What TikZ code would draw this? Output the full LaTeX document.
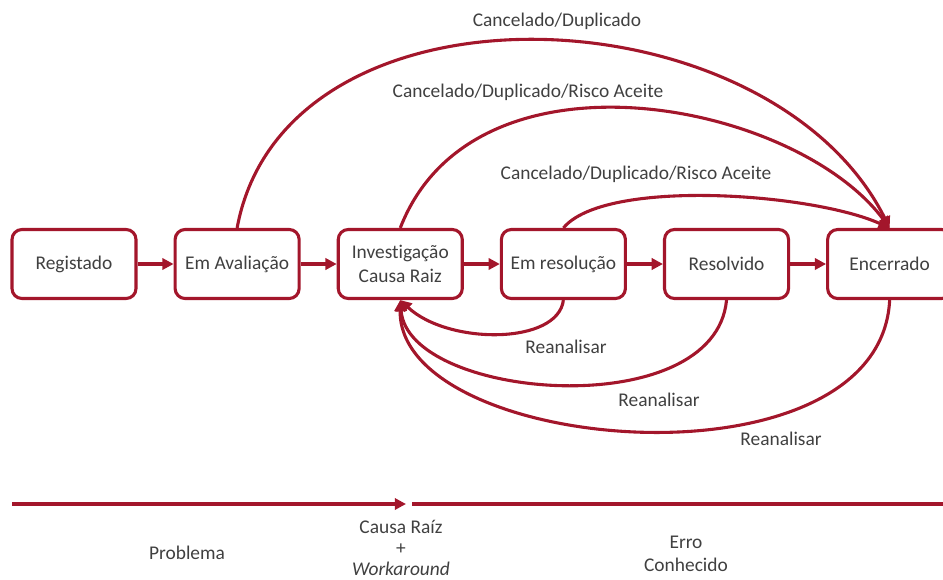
\documentclass[tikz,border=0pt]{standalone}
\usepackage{fontspec}
\setmainfont{Carlito}[Ligatures=NoCommon]
\usetikzlibrary{chains, positioning, arrows.meta}
\definecolor{wine}{RGB}{163,22,43}
\definecolor{txtgray}{RGB}{64,64,64}
\tikzset{
  estado/.style = {draw=wine, line width=2.2pt, rounded corners=0.25cm, fill=white, text=txtgray,
    minimum width=3.1cm, minimum height=1.725cm, inner sep=0, align=center, font=\fontsize{13.8}{17}\selectfont},
  fluxo/.style = {draw=wine, line width=2.2pt, -{Triangle[length=8pt, width=8pt]}},
  rotulo/.style = {text=txtgray, inner sep=0, align=center, font=\fontsize{13.8}{16}\selectfont},
}

\begin{document}
\begin{tikzpicture}[x=0.025cm, y=-0.025cm, start chain=1 going right, node distance=0.9cm]
        \useasboundingbox (0,0) rectangle (943,580);
        % Estados do problema, em linha
        \node (reg) [estado, on chain=1] at (74,264) {Registado};
        \foreach \N/\T in {
          aval/Em Avaliação,
          inv/Investigação\\Causa Raiz,
          resol/Em resolução,
          resolv/Resolvido,
          enc/Encerrado%
        }{
          \node (\N) [estado, on chain=1] {\T};
        }
        \foreach \A/\B in {reg/aval, aval/inv, inv/resol, resol/resolv, resolv/enc}
          \draw [fluxo] (\A) -- (\B);

        \draw [fluxo] (aval.north) .. controls (285,-32) and (770,-12) .. (enc.north);
        \draw [fluxo] (inv.north) .. controls (474,38) and (795,101) .. (enc.north);
        \draw [fluxo] (resol.north) .. controls (605,178) and (812,193) .. (enc.north);
        \node (cancA) [rotulo] at (557,21) {Cancelado/Duplicado};
        \node (cancB) [rotulo] at (528,92) {Cancelado/Duplicado/Risco Aceite};
        \node (cancC) [rotulo] at (636,174) {Cancelado/Duplicado/Risco Aceite};

        \draw [fluxo] (resol.south) .. controls (558,345) and (448,345) .. (inv.south);
        \draw [fluxo] (resolv.south) .. controls (715,425) and (408,400) .. (inv.south);
        \draw [fluxo] (enc.south) .. controls (880,495) and (398,454) .. (inv.south);
        \node (reanA) [rotulo] at (566,347) {Reanalisar};
        \node (reanB) [rotulo] at (659,400) {Reanalisar};
        \node (reanC) [rotulo] at (781,439) {Reanalisar};

        \coordinate (t0) at (12,504);
        \coordinate (t1) at (406,504);
        \coordinate (t2) at (412,504);
        \coordinate (t3) at (943,504);
        \draw [fluxo] (t0) -- (t1);
        \draw [draw=wine, line width=2.2pt] (t2) -- (t3);
        \node (prob) [rotulo] at (187,553) {Problema};
        \node (causa) [rotulo, font=\fontsize{13.8}{15}\selectfont] at (401,548) {Causa Raíz\\+\\\textit{Workaround}};
        \node (erro) [rotulo] at (686,554) {Erro\\Conhecido};
      \end{tikzpicture}
\end{document}
